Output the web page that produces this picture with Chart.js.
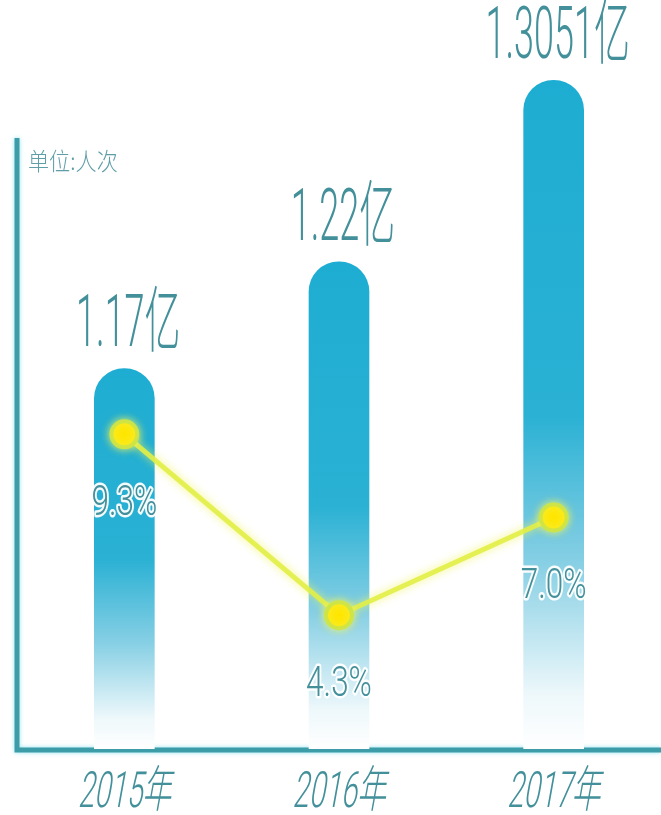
<!DOCTYPE html>
<html>
<head>
<meta charset="utf-8">
<script src="https://cdn.jsdelivr.net/npm/chart.js@4/dist/chart.umd.min.js"></script>
<style>
  html, body { margin: 0; padding: 0; background: #ffffff; }
  #wrap { width: 661px; height: 815px; }
</style>
</head>
<body>
<div id="wrap"><canvas id="myChart" width="661" height="815"></canvas></div>
<script>
years = ['2015年', '2016年', '2017年']
visitors = [1.17, 1.22, 1.3051]   // 亿人次
growth = [9.3, 4.3, 7.0]          // 增长率 %
unitText = '单位:人次'

var textColor = '#43909b'
var axisColor = '#3c9ca8'

// condensed text: draw with a horizontal squeeze (and optional slant)
function squeezeText(ctx, text, x, y, font, sx, color, align, baseline, outline, slant) {
  ctx.save()
  ctx.translate(x, y)
  ctx.transform(sx, 0, -(slant || 0), 1, 0, 0)
  ctx.font = font
  ctx.textAlign = align
  ctx.textBaseline = baseline
  if (outline) {
    ctx.lineJoin = 'round'
    ctx.lineWidth = 5
    ctx.strokeStyle = 'rgba(255,255,255,0.95)'
    ctx.strokeText(text, 0, 0)
  }
  ctx.fillStyle = color
  ctx.fillText(text, 0, 0)
  ctx.restore()
}

var axisLines = {
  id: 'axisLines',
  beforeDatasetsDraw(chart) {
    const {ctx, chartArea} = chart
    ctx.save()
    ctx.strokeStyle = axisColor
    ctx.lineWidth = 5
    ctx.shadowColor = 'rgba(120,220,235,0.8)'
    ctx.shadowBlur = 4
    ctx.beginPath()
    ctx.moveTo(chartArea.left, 138)
    ctx.lineTo(chartArea.left, chartArea.bottom + 1)
    ctx.lineTo(chartArea.right, chartArea.bottom + 1)
    ctx.stroke()
    ctx.restore()
  }
}

var lineGlow = {
  id: 'lineGlow',
  beforeDatasetDraw(chart, args) {
    if (args.index !== 0) return
    chart.ctx.save()
    chart.ctx.shadowColor = 'rgba(240,245,90,0.9)'
    chart.ctx.shadowBlur = 8
  },
  afterDatasetDraw(chart, args) {
    if (args.index !== 0) return
    chart.ctx.restore()
  }
}

var labels = {
  id: 'labels',
  afterDatasetsDraw(chart) {
    const {ctx, chartArea, scales} = chart
    // value above each bar
    chart.getDatasetMeta(1).data.forEach((bar, i) => {
      squeezeText(ctx, visitors[i] + '亿', bar.x + 4, bar.y - 22,
        '300 72px Roboto, "Noto Sans CJK SC"', 0.5, textColor, 'center', 'alphabetic')
    })
    // growth rate under each point
    chart.getDatasetMeta(0).data.forEach((pt, i) => {
      squeezeText(ctx, growth[i].toFixed(1) + '%', pt.x, pt.y + 70,
        '300 42px Roboto', 0.75, textColor, 'center', 'middle', true)
    })
    // years
    years.forEach((y, i) => {
      squeezeText(ctx, y, scales.x.getPixelForValue(i), chartArea.bottom + 58,
        '300 50px Roboto, "Noto Sans CJK SC"', 0.58, textColor, 'center', 'alphabetic', false, 0.18)
    })
    squeezeText(ctx, unitText, chartArea.left + 11, 161,
      '300 24px "Noto Sans CJK SC"', 0.88, '#5f9ea7', 'left', 'middle')
  }
}

function barFill(context) {
  const chart = context.chart
  if (context.type !== 'data' || !chart.chartArea) return '#22acd2'
  const ys = chart.scales.y
  const top = ys.getPixelForValue(context.raw)
  const bottom = ys.getPixelForValue(ys.min)
  const g = chart.ctx.createLinearGradient(0, top, 0, bottom)
  g.addColorStop(0, '#1eadd2')
  g.addColorStop(0.5, '#2ab1d4')
  g.addColorStop(0.72, '#86cfe4')
  g.addColorStop(0.92, '#eef8fb')
  g.addColorStop(1, '#ffffff')
  return g
}

var ctx = document.getElementById('myChart')
var chart = new Chart(ctx, {
  type: 'bar',
  data: {
    labels: years,
    datasets: [
      {
        type: 'line',
        label: '增长率',
        data: growth,
        yAxisID: 'y1',
        order: 0,
        borderColor: 'rgba(226,238,70,0.9)',
        borderWidth: 5,
        tension: 0,
        pointRadius: 13,
        pointBackgroundColor: '#ffe600',
        pointBorderColor: 'rgba(205,228,70,0.95)',
        pointBorderWidth: 4
      },
      {
        type: 'bar',
        label: '人次',
        data: visitors,
        yAxisID: 'y',
        order: 1,
        backgroundColor: barFill,
        barThickness: 60,
        borderRadius: {topLeft: 30, topRight: 30, bottomLeft: 0, bottomRight: 0},
        borderSkipped: false
      }
    ]
  },
  options: {
    responsive: false,
    animation: false,
    layout: {
      autoPadding: false,
      padding: {top: 40, left: 17, right: 0, bottom: 66}
    },
    scales: {
      x: {display: false},
      y: {display: false, min: 0.9916, max: 1.324},
      y1: {display: false, min: 0.6, max: 20.2}
    },
    plugins: {
      legend: {display: false},
      tooltip: {enabled: false}
    }
  },
  plugins: [axisLines, lineGlow, labels]
})
</script>
</body>
</html>
